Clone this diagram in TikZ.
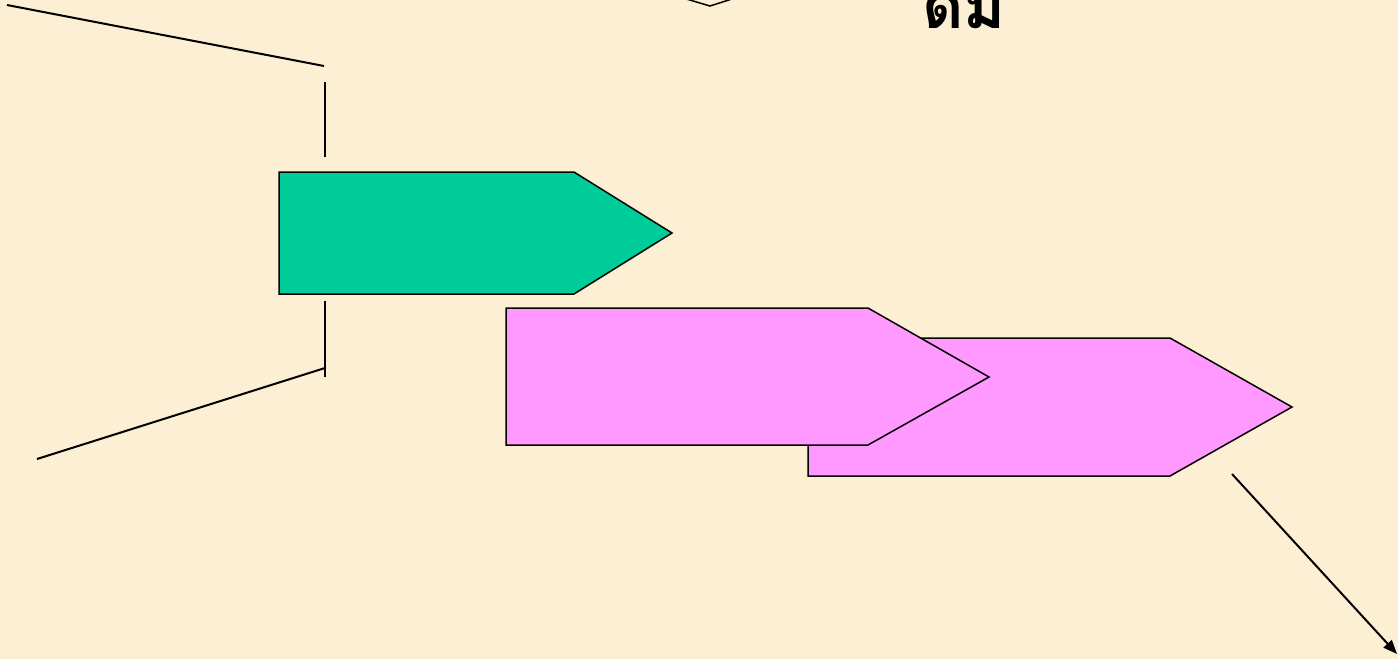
\documentclass[tikz,border=0pt]{standalone}
\usepackage{fontspec}
\newfontfamily\thaifont[Script=Thai]{Loma}
\usetikzlibrary{arrows.meta}
\definecolor{bgcream}{HTML}{FCEFD3}
\definecolor{greenfill}{HTML}{00CC99}
\definecolor{pinkfill}{HTML}{FF99FF}
\tikzset{
  shapeline/.style={draw=black, line width=1.5pt, line join=miter},
  plainline/.style={draw=black, line width=2pt},
}
\begin{document}
\begin{tikzpicture}[x=1pt,y=-1pt]
\useasboundingbox (0,0) rectangle (1398,659);
\fill[bgcream] (0,0) rectangle (1398,659);
\begin{scope}
\clip (0,0) rectangle (1398,659);
% partial shape at top
\draw[shapeline] (683,-2) -- (710,6) -- (735,-2);
% partial Thai text, cut off by the top edge as in the reference
\node[anchor=base west, inner sep=0pt, font=\thaifont\bfseries\fontsize{64}{64}\selectfont] (txt) at (922,28) {ดม};
\end{scope}
% green pentagon arrow
\draw[shapeline, fill=greenfill] (279,172) -- (574,172) -- (672,233) -- (574,294) -- (279,294) -- cycle;
% back pink arrow
\draw[shapeline, fill=pinkfill] (808,338) -- (1170,338) -- (1292,407) -- (1170,476) -- (808,476) -- cycle;
% front pink arrow
\draw[shapeline, fill=pinkfill] (506,308) -- (868,308) -- (989,377) -- (868,445) -- (506,445) -- cycle;
% lines left
\coordinate (a1) at (7,5);
\coordinate (a2) at (324,66);
\coordinate (b1) at (325,82);
\coordinate (b2) at (325,157);
\coordinate (c1) at (325,301);
\coordinate (c2) at (325,377);
\coordinate (d1) at (37,459);
\coordinate (d2) at (325,368);
\draw[plainline] (a1) -- (a2);
\draw[plainline] (b1) -- (b2);
\draw[plainline] (c1) -- (c2);
\draw[plainline] (d1) -- (d2);
% arrow bottom right
\coordinate (e1) at (1232,474);
\coordinate (e2) at (1397,654);
\draw[plainline, -{Triangle[length=14pt,width=11pt]}] (e1) -- (e2);
\end{tikzpicture}
\end{document}
